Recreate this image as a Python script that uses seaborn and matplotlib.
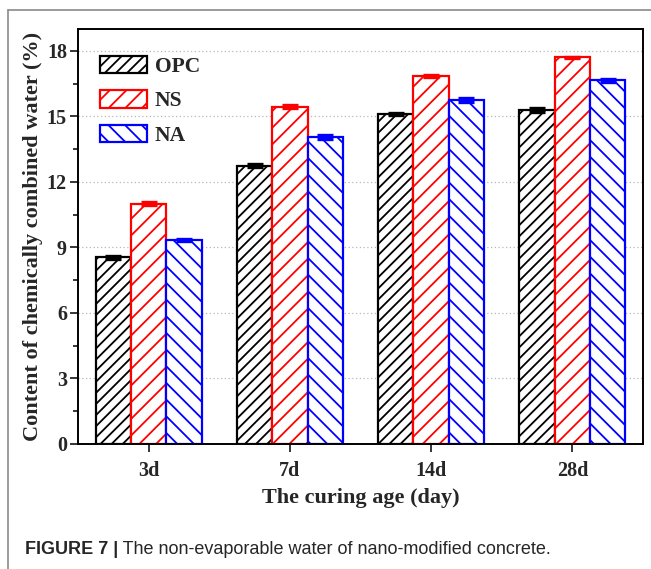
import matplotlib
matplotlib.use("Agg")
import matplotlib.pyplot as plt
import matplotlib.patches as mpatches
from matplotlib.lines import Line2D
from matplotlib.ticker import MultipleLocator
import numpy as np
import pandas as pd
import seaborn as sns

# Curing ages and mixes
ages = ["3d", "7d", "14d", "28d"]
mixes = ["OPC", "NS", "NA"]

# Chemically combined water content (%)
opc_water = [8.55, 12.75, 15.1, 15.3]
ns_water = [11.0, 15.45, 16.85, 17.7]
na_water = [9.35, 14.05, 15.75, 16.65]

# Standard deviations
opc_err = [0.06, 0.05, 0.05, 0.08]
ns_err = [0.08, 0.05, 0.05, 0.04]
na_err = [0.05, 0.08, 0.08, 0.07]

colors = {"OPC": "#000000", "NS": "#ff0000", "NA": "#0000ff"}
hatches = {"OPC": "///", "NS": "//", "NA": "\\\\"}

values = {"OPC": opc_water, "NS": ns_water, "NA": na_water}
errors = {"OPC": opc_err, "NS": ns_err, "NA": na_err}

df = pd.DataFrame({
    "age": ages * len(mixes),
    "mix": [m for m in mixes for _ in ages],
    "water": opc_water + ns_water + na_water,
})

sns.set_style("white")
plt.rcParams["font.family"] = ["Liberation Serif", "DejaVu Serif"]
plt.rcParams["font.weight"] = "bold"
plt.rcParams["hatch.linewidth"] = 1.3

fig = plt.figure(figsize=(6.51, 5.69), dpi=100)
ax = fig.add_axes([0.1198, 0.2197, 0.8679, 0.7293])

sns.barplot(data=df, x="age", y="water", hue="mix", order=ages,
            hue_order=mixes, palette=colors, width=0.75, fill=False,
            errorbar=None, linewidth=1.6, legend=False, ax=ax)

# White fill and hatching per mix, plus error bars at bar centres
for mix, cont in zip(mixes, ax.containers):
    xs = []
    for p in cont.patches:
        p.set_facecolor("white")
        p.set_edgecolor(colors[mix])
        p.set_hatch(hatches[mix])
        p.set_zorder(2)
        xs.append(p.get_x() + p.get_width() / 2)
    ax.errorbar(xs, values[mix], yerr=errors[mix], fmt="none",
                ecolor=colors[mix], elinewidth=1.5, capsize=6,
                capthick=2.4, zorder=3)

ax.set_xlim(-0.5, 3.5)
ax.set_ylim(0, 19)
ax.yaxis.set_major_locator(MultipleLocator(3))
ax.yaxis.set_minor_locator(MultipleLocator(1.5))
ax.set_axisbelow(True)
ax.yaxis.grid(True, which="major", linestyle=(0, (1, 2)),
              color="#b8b8b8", linewidth=0.9)

for s in ax.spines.values():
    s.set_visible(True)
    s.set_color("black")
    s.set_linewidth(1.4)

ax.tick_params(axis="y", which="major", direction="out", length=6,
               width=1.3, labelsize=14.5, left=True, pad=2)
ax.tick_params(axis="y", which="minor", direction="out", length=3.5,
               width=1.3, left=True)
ax.tick_params(axis="x", which="major", direction="out", length=6,
               width=1.3, labelsize=14.5, bottom=True, pad=6)
for lab in ax.get_xticklabels() + ax.get_yticklabels():
    lab.set_fontweight("bold")

ax.set_xlabel("The curing age (day)", fontsize=16, fontweight="bold",
              labelpad=5)
ax.set_ylabel("Content of chemically combined water (%)", fontsize=16,
              fontweight="bold", labelpad=3)

handles = [mpatches.Patch(facecolor="white", edgecolor=colors[m],
                          hatch=hatches[m], linewidth=1.6, label=m)
           for m in mixes]
ax.legend(handles=handles, loc="upper left", bbox_to_anchor=(0.039, 0.935),
          frameon=False, borderpad=0, borderaxespad=0, handlelength=2.2,
          handleheight=0.85, handletextpad=0.35, labelspacing=0.62,
          prop={"family": "Liberation Serif", "weight": "bold", "size": 15.5})

# Page frame lines
fig.add_artist(Line2D([8 / 651, 8 / 651], [0, 1 - 10 / 569],
                      transform=fig.transFigure, color="#8a8a8a", lw=1.2))
fig.add_artist(Line2D([8 / 651, 1], [1 - 10 / 569, 1 - 10 / 569],
                      transform=fig.transFigure, color="#8a8a8a", lw=1.2))

# Caption
cap_y = 0.026
cap = fig.text(25 / 651, cap_y, "FIGURE 7 |", fontsize=13, fontweight="bold",
               family=["Liberation Sans", "DejaVu Sans"], va="baseline",
               ha="left")
txt2 = fig.text(0, cap_y, " The non-evaporable water of nano-modified concrete.",
                fontsize=13, fontweight="normal",
                family=["Liberation Sans", "DejaVu Sans"], va="baseline",
                ha="left")
fig.canvas.draw()
bb = cap.get_window_extent()
inv = fig.transFigure.inverted()
x1, _ = inv.transform((bb.x1, bb.y0))
txt2.set_position((x1, cap_y))

fig.savefig("out.png", dpi=100)
